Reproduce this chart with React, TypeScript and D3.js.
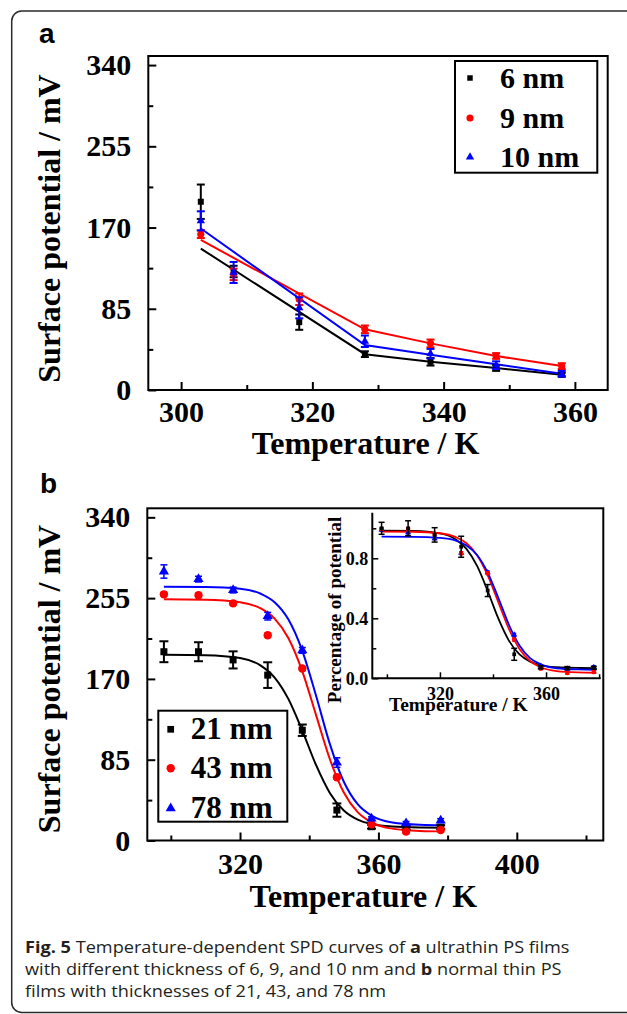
import * as d3 from "d3";
import {useEffect, useRef} from "react";

const W = 627;
const H = 1014;
const SERIF = "'Liberation Serif', 'Times New Roman', serif";
const SANS = "'Liberation Sans', Arial, sans-serif";
const CAPTION_FONT = "'Open Sans', 'Noto Sans', sans-serif";
const RED = "#ff0000";
const BLUE = "#0000ff";

// ---- panel a: ultrathin films ----
const tempsA = [303, 308, 318, 328, 338, 348, 358];
const spd6 = [197, 124, 71, 37.5, 29.6, 23, 16];
const err6 = [18, 6, 8, 3, 4, 3, 2];
const spd9 = [163, 121, 95, 63.5, 48.8, 35.6, 25];
const err9 = [4, 6, 6, 4, 4, 3, 3];
const spd10 = [177, 123, 86, 51, 38, 26, 17];
const err10 = [10, 11, 11, 6, 5, 4, 3];
// fitted lines of panel a
const fitTempsA = [303, 328, 338, 348, 358];
const fit6 = [148, 37.5, 29.6, 23, 16];
const fit9 = [157, 63.5, 48.8, 35.6, 25];
const fit10 = [169, 47, 37, 27, 17];
const legendA = ["6 nm", "9 nm", "10 nm"];

// ---- panel b: normal thin films ----
const tempsB = [298, 308, 318, 328, 338, 348, 358, 368, 378];
const spd21 = [198.6, 198.6, 190, 174, 116, 32, 14.5, 13.5, 14];
const err21 = [11, 10, 9, 13.5, 6, 7, 2, 2, 2];
const spd43 = [259, 258, 249.5, 216, 181, 66.5, 17, 9.3, 11];
const err43 = [2, 2, 2, 2, 2, 2, 2, 2, 2];
const spd78 = [283, 275, 263.5, 236, 200, 82, 23, 18, 21];
const err78 = [7, 3, 3, 4, 3, 5, 2, 2, 2];
// sigmoid fits of panel b
const fitTempsB = [298, 310, 320, 326, 330, 334, 338, 342, 346, 350, 354, 358, 364, 372, 379];
const fit21 = [195.5, 195.0, 191.9, 184.0, 171.4, 148.7, 115.6, 79.2, 49.8, 31.6, 22.0, 17.3, 14.6, 13.7, 13.5];
const fit43 = [253.7, 253.3, 250.7, 244.1, 233.4, 212.7, 178.0, 131.6, 85.2, 50.5, 29.8, 19.1, 12.5, 10.1, 9.6];
const fit78 = [267, 266.7, 264.8, 259.6, 250.7, 232.4, 199.5, 152, 101.1, 61.8, 38.2, 26.2, 19.0, 16.6, 16.1];
const legendB = ["21 nm", "43 nm", "78 nm"];

// ---- inset: percentage of potential ----
const pct21 = [1.0, 1.0, 0.956, 0.877, 0.585, 0.16, 0.073, 0.068, 0.07];
const pctErr21 = [0.04, 0.05, 0.048, 0.07, 0.04, 0.04, 0.01, 0.01, 0.01];
const pct43 = [0.995, 0.995, 0.962, 0.834, 0.7, 0.257, 0.066, 0.036, 0.042];
const pct78 = [0.99, 0.972, 0.932, 0.835, 0.706, 0.29, 0.082, 0.064, 0.074];
const pctErrSmall = [0.01, 0.01, 0.01, 0.01, 0.01, 0.01, 0.01, 0.01, 0.01];
const pctFit21 = [0.984, 0.982, 0.966, 0.926, 0.863, 0.749, 0.582, 0.399, 0.251, 0.159, 0.111, 0.087, 0.074, 0.069, 0.068];
const pctFit43 = [0.978, 0.977, 0.967, 0.941, 0.9, 0.82, 0.686, 0.508, 0.329, 0.195, 0.115, 0.074, 0.048, 0.039, 0.037];
const pctFit78 = [0.944, 0.943, 0.936, 0.918, 0.886, 0.822, 0.705, 0.537, 0.357, 0.219, 0.135, 0.093, 0.067, 0.059, 0.057];

const yTicks = [0, 85, 170, 255, 340];
const yMinor = [42.5, 127.5, 212.5, 297.5];

const marker = (shape, size) => {
    const type = shape === "square" ? d3.symbolSquare : shape === "circle" ? d3.symbolCircle : d3.symbolTriangle;
    return d3.symbol().type(type).size(size)();
};

const styleAxis = (a, fs, sw) => {
    a.select(".domain").remove();
    a.attr("font-size", fs).attr("font-family", SERIF).attr("font-weight", "bold");
    a.selectAll("line").attr("stroke-width", sw);
    a.selectAll("text").attr("fill", "#000");
};

const drawAxes = (g, x, y, o) => {
    g.append("g").attr("transform", `translate(0,${o.bottom})`)
        .call(d3.axisBottom(x).tickValues(o.xMinor).tickSize(-o.minor).tickFormat(""))
        .call(a => styleAxis(a, o.fs, o.sw));
    g.append("g").attr("transform", `translate(0,${o.bottom})`)
        .call(d3.axisBottom(x).tickValues(o.xMajor).tickSize(-o.major).tickPadding(o.xPad).tickFormat(o.xFmt))
        .call(a => styleAxis(a, o.fs, o.sw));
    g.append("g").attr("transform", `translate(${o.left},0)`)
        .call(d3.axisLeft(y).tickValues(o.yMinor).tickSize(-o.minor).tickFormat(""))
        .call(a => styleAxis(a, o.fs, o.sw));
    g.append("g").attr("transform", `translate(${o.left},0)`)
        .call(d3.axisLeft(y).tickValues(o.yMajor).tickSize(-o.major).tickPadding(o.yPad).tickFormat(o.yFmt))
        .call(a => styleAxis(a, o.fs, o.sw));
};

const drawSeries = (g, x, y, temps, vals, errs, color, shape, size, cap, sw) => {
    const s = g.append("g");
    temps.forEach((t, i) => {
        const cx = x(t);
        const y0 = y(vals[i] - errs[i]);
        const y1 = y(vals[i] + errs[i]);
        s.append("line").attr("x1", cx).attr("x2", cx).attr("y1", y0).attr("y2", y1)
            .attr("stroke", color).attr("stroke-width", sw);
        [y0, y1].forEach(yy => s.append("line")
            .attr("x1", cx - cap / 2).attr("x2", cx + cap / 2).attr("y1", yy).attr("y2", yy)
            .attr("stroke", color).attr("stroke-width", sw));
        s.append("path").attr("d", marker(shape, size))
            .attr("transform", `translate(${cx},${y(vals[i])})`).attr("fill", color);
    });
};

const drawLine = (g, x, y, temps, vals, color, sw, curve) => {
    const line = d3.line().x((d, i) => x(temps[i])).y(d => y(d)).curve(curve);
    g.append("path").attr("d", line(vals)).attr("fill", "none")
        .attr("stroke", color).attr("stroke-width", sw);
};

const drawLegend = (g, box, labels, shapes, sizes, fs) => {
    g.append("rect").attr("x", box.x).attr("y", box.y).attr("width", box.w).attr("height", box.h)
        .attr("fill", "#fff").attr("stroke", "#000").attr("stroke-width", 2);
    labels.forEach((lab, i) => {
        const cy = box.rows[i];
        g.append("path").attr("d", marker(shapes[i][0], sizes[i]))
            .attr("transform", `translate(${box.mx},${cy})`).attr("fill", shapes[i][1]);
        g.append("text").attr("x", box.tx).attr("y", cy + 10)
            .attr("font-family", SERIF).attr("font-weight", "bold").attr("font-size", fs)
            .text(lab);
    });
};

const yTitle = (svg, cx, cy, label, fs) => {
    svg.append("text").attr("transform", `translate(${cx},${cy}) rotate(-90)`)
        .attr("text-anchor", "middle").attr("font-family", SERIF).attr("font-weight", "bold")
        .attr("font-size", fs).text(label);
};

const xTitle = (svg, cx, cy, label, fs) => {
    svg.append("text").attr("x", cx).attr("y", cy)
        .attr("text-anchor", "middle").attr("font-family", SERIF).attr("font-weight", "bold")
        .attr("font-size", fs).text(label);
};

const draw = (svg) => {
    svg.append("rect").attr("width", W).attr("height", H).attr("fill", "#fff");
    svg.append("rect").attr("x", 11.7).attr("y", 11).attr("width", 700).attr("height", 1001.5)
        .attr("rx", 10).attr("fill", "none").attr("stroke", "#2a2a2a").attr("stroke-width", 1.5);

    // ---------- panel a ----------
    const pa = {left: 148.3, right: 607.7, top: 56, bottom: 390};
    const xa = d3.scaleLinear().domain([295, 365]).range([pa.left, pa.right]);
    const ya = d3.scaleLinear().domain([0, 349.5]).range([pa.bottom, pa.top]);
    const ga = svg.append("g");
    drawAxes(ga, xa, ya, {
        ...pa, fs: 30, sw: 2, major: 8, minor: 5, xPad: 11, yPad: 17,
        xMajor: [300, 320, 340, 360], xMinor: [310, 330, 350],
        yMajor: yTicks, yMinor: yMinor, xFmt: d3.format("d"), yFmt: d3.format("d"),
    });
    ga.append("rect").attr("x", pa.left).attr("y", pa.top)
        .attr("width", pa.right - pa.left).attr("height", pa.bottom - pa.top)
        .attr("fill", "none").attr("stroke", "#000").attr("stroke-width", 2);
    drawLine(ga, xa, ya, fitTempsA, fit6, "#000", 2, d3.curveLinear);
    drawLine(ga, xa, ya, fitTempsA, fit9, RED, 2, d3.curveLinear);
    drawLine(ga, xa, ya, fitTempsA, fit10, BLUE, 2, d3.curveLinear);
    drawSeries(ga, xa, ya, tempsA, spd6, err6, "#000", "square", 36, 8, 2);
    drawSeries(ga, xa, ya, tempsA, spd9, err9, RED, "circle", 40, 8, 2);
    drawSeries(ga, xa, ya, tempsA, spd10, err10, BLUE, "triangle", 30, 8, 2);
    drawLegend(ga, {x: 455, y: 61, w: 142.3, h: 111.7, rows: [78, 118, 157], mx: 470, tx: 500},
        legendA, [["square", "#000"], ["circle", RED], ["triangle", BLUE]], [30, 40, 30], 30);
    svg.append("text").attr("x", 39).attr("y", 43).attr("font-family", SANS)
        .attr("font-weight", "bold").attr("font-size", 28).text("a");
    yTitle(svg, 60, 228.5, "Surface potential / mV", 32);
    xTitle(svg, 365.6, 454, "Temperature / K", 32);

    // ---------- panel b ----------
    const pb = {left: 147.3, right: 603.3, top: 508.3, bottom: 840.5};
    const xb = d3.scaleLinear().domain([293.2, 425]).range([pb.left, pb.right]);
    const yb = d3.scaleLinear().domain([0, 349.5]).range([pb.bottom, pb.top]);
    const gb = svg.append("g");
    drawAxes(gb, xb, yb, {
        ...pb, fs: 30, sw: 2, major: 8, minor: 5, xPad: 12, yPad: 17,
        xMajor: [320, 360, 400], xMinor: [300, 340, 380, 420],
        yMajor: yTicks, yMinor: yMinor, xFmt: d3.format("d"), yFmt: d3.format("d"),
    });
    gb.append("rect").attr("x", pb.left).attr("y", pb.top)
        .attr("width", pb.right - pb.left).attr("height", pb.bottom - pb.top)
        .attr("fill", "none").attr("stroke", "#000").attr("stroke-width", 2);
    drawLine(gb, xb, yb, fitTempsB, fit21, "#000", 2, d3.curveMonotoneX);
    drawLine(gb, xb, yb, fitTempsB, fit43, RED, 2, d3.curveMonotoneX);
    drawLine(gb, xb, yb, fitTempsB, fit78, BLUE, 2, d3.curveMonotoneX);
    drawSeries(gb, xb, yb, tempsB, spd21, err21, "#000", "square", 49, 9, 2);
    drawSeries(gb, xb, yb, tempsB, spd43, err43, RED, "circle", 55, 7, 1.5);
    drawSeries(gb, xb, yb, tempsB, spd78, err78, BLUE, "triangle", 45, 7, 1.5);
    drawLegend(gb, {x: 158.3, y: 710.7, w: 129, h: 111, rows: [729.3, 768.3, 808.3], mx: 170.7, tx: 190.7},
        legendB, [["square", "#000"], ["circle", RED], ["triangle", BLUE]], [45, 55, 45], 31);
    svg.append("text").attr("x", 40).attr("y", 493).attr("font-family", SANS)
        .attr("font-weight", "bold").attr("font-size", 28).text("b");
    yTitle(svg, 60, 679, "Surface potential / mV", 32);
    xTitle(svg, 363.3, 907, "Temperature / K", 32);

    // ---------- inset ----------
    const pi = {left: 372.3, right: 600.7, top: 512.7, bottom: 678.3};
    const xi = d3.scaleLinear().domain([294.5, 380.6]).range([pi.left, pi.right]);
    const yi = d3.scaleLinear().domain([0, 1.104]).range([pi.bottom, pi.top]);
    const gi = svg.append("g");
    drawAxes(gi, xi, yi, {
        ...pi, fs: 18, sw: 1.5, major: 6, minor: 4, xPad: 9, yPad: 4,
        xMajor: [320, 360], xMinor: [300, 340, 380],
        yMajor: [0, 0.4, 0.8], yMinor: [0.2, 0.6, 1.0], xFmt: d3.format("d"), yFmt: d3.format(".1f"),
    });
    gi.append("path")
        .attr("d", `M${pi.left},${pi.top}V${pi.bottom}H${pi.right}`)
        .attr("fill", "none").attr("stroke", "#000").attr("stroke-width", 2);
    drawLine(gi, xi, yi, fitTempsB, pctFit21, "#000", 1.8, d3.curveMonotoneX);
    drawLine(gi, xi, yi, fitTempsB, pctFit43, RED, 1.8, d3.curveMonotoneX);
    drawLine(gi, xi, yi, fitTempsB, pctFit78, BLUE, 1.8, d3.curveMonotoneX);
    drawSeries(gi, xi, yi, tempsB, pct78, pctErrSmall, BLUE, "triangle", 16, 4, 1.2);
    drawSeries(gi, xi, yi, tempsB, pct43, pctErrSmall, RED, "circle", 16, 4, 1.2);
    drawSeries(gi, xi, yi, tempsB, pct21, pctErr21, "#000", "square", 14, 6, 1.5);
    yTitle(svg, 341, 610, "Percentage of potential", 19);
    xTitle(svg, 458.3, 710.7, "Temperature / K", 19.5);

    // ---------- caption (slightly wide type, as in the source) ----------
    const cap = svg.append("text")
        .attr("transform", "translate(25,0) scale(1.1,1)")
        .attr("font-family", CAPTION_FONT).attr("font-size", 16.5).attr("fill", "#231f20");
    const lines = [
        [["Fig. 5", true], [" Temperature-dependent SPD curves of ", false], ["a", true], [" ultrathin PS films", false]],
        [["with different thickness of 6, 9, and 10 nm and ", false], ["b", true], [" normal thin PS", false]],
        [["films with thicknesses of 21, 43, and 78 nm", false]],
    ];
    const baselines = [953.3, 975, 996.7];
    lines.forEach((parts, li) => {
        parts.forEach(([txt, bold], pi2) => {
            const ts = cap.append("tspan").attr("font-weight", bold ? "bold" : "normal").text(txt);
            if (pi2 === 0) ts.attr("x", 0).attr("y", baselines[li]);
        });
    });
};

const App = () => {
    const ref = useRef(null);

    useEffect(() => {
        const svg = d3.select(ref.current);
        svg.selectAll("*").remove();
        draw(svg);
    }, []);

    return (
        <svg
            ref={ref}
            width={W}
            height={H}
            style={{position: "absolute", left: 0, top: 0}}>
        </svg>
    );
};

export default App;
